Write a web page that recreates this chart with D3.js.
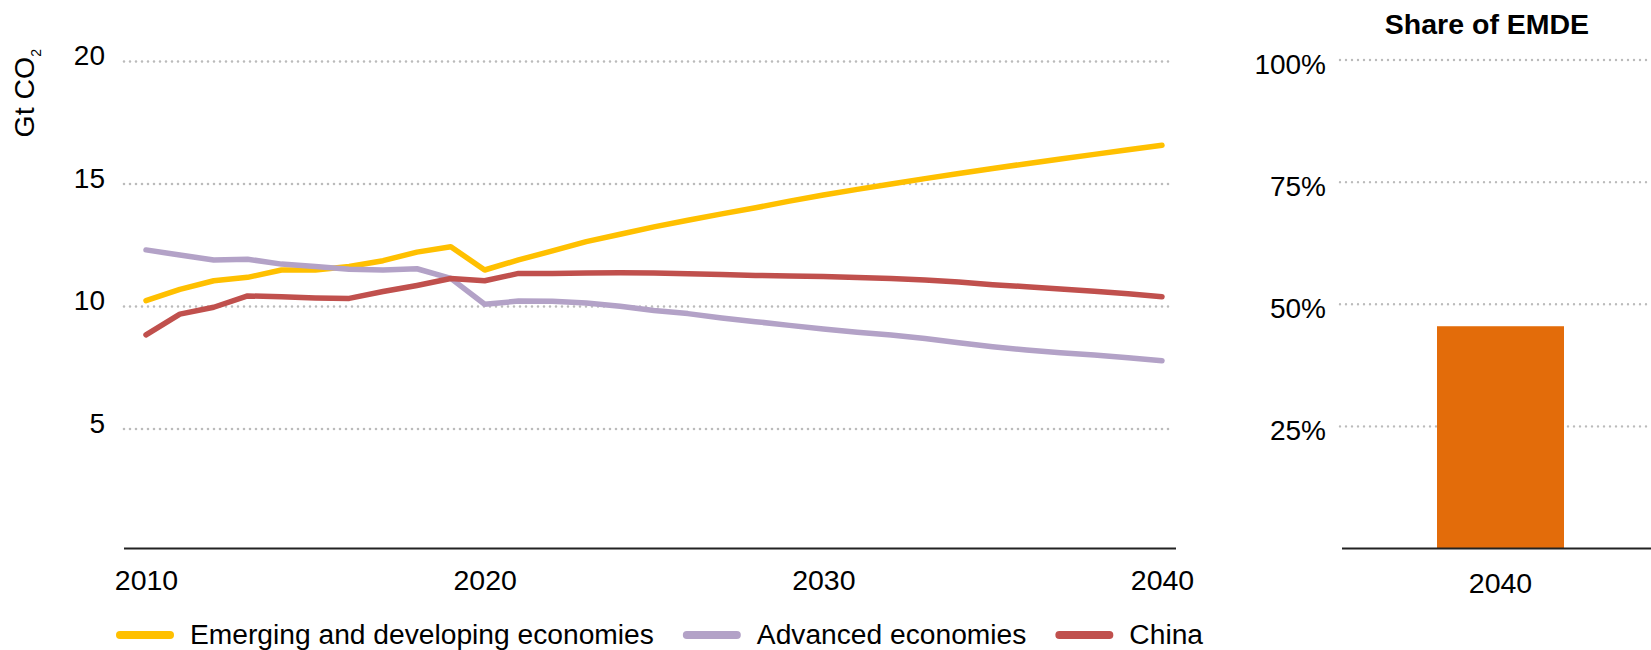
<!DOCTYPE html>
<html><head><meta charset="utf-8">
<script src="https://cdn.jsdelivr.net/npm/d3@7"></script>
<style>
body{margin:0;background:#fff}
text{font-family:"Liberation Sans",Arial,Helvetica,sans-serif;fill:#000}
</style>
</head><body>
<svg id="c" width="1651" height="650"></svg>
<script>
const years = [2010,2011,2012,2013,2014,2015,2016,2017,2018,2019,2020,2021,2022,2023,2024,2025,2026,2027,2028,2029,2030,2031,2032,2033,2034,2035,2036,2037,2038,2039,2040];
const emde = [10.24,10.70,11.05,11.19,11.49,11.49,11.63,11.87,12.22,12.44,11.49,11.90,12.27,12.65,12.95,13.25,13.52,13.78,14.03,14.30,14.55,14.78,15.00,15.22,15.43,15.63,15.83,16.02,16.21,16.40,16.58];
const advanced = [12.31,12.10,11.90,11.93,11.73,11.63,11.52,11.49,11.54,11.15,10.09,10.22,10.21,10.14,10.01,9.84,9.71,9.53,9.38,9.23,9.08,8.95,8.84,8.69,8.52,8.36,8.22,8.11,8.02,7.91,7.79];
const china = [8.84,9.69,9.97,10.43,10.40,10.35,10.33,10.61,10.86,11.14,11.05,11.35,11.35,11.37,11.38,11.37,11.34,11.31,11.27,11.24,11.22,11.18,11.14,11.08,11.00,10.89,10.81,10.71,10.62,10.52,10.40];
const seriesNames = ["Emerging and developing economies","Advanced economies","China"];
const seriesColors = ["#FFC000","#B3A2C7","#C0504D"];
const yTicks = [5,10,15,20];
const xTicks = [2010,2020,2030,2040];
const shareCategories = ["2040"];
const shareValues = [45.5];
const shareTicks = [25,50,75,100];
const shareTitle = "Share of EMDE";
const barColor = "#E36C0A";

const svg = d3.select("#c");
const gridColor = "#BBBBBB";

// ---------- left panel ----------
const x = d3.scaleLinear().domain([2010,2040]).range([146,1162]);
const y = d3.scaleLinear().domain([0,20]).range([551.5,61.5]);
const gL = svg.append("g");

gL.selectAll("line.grid").data(yTicks).join("line")
  .attr("x1",124).attr("x2",1174)
  .attr("y1",d=>y(d)).attr("y2",d=>y(d))
  .attr("stroke",gridColor).attr("stroke-width",2.6)
  .attr("stroke-linecap","round").attr("stroke-dasharray","0,6");

const yAxL = gL.append("g").attr("transform","translate(124,0)")
  .call(d3.axisLeft(y).tickValues(yTicks).tickSize(0).tickPadding(19).tickFormat(d3.format("d")));
yAxL.select(".domain").remove();
yAxL.selectAll("text").attr("dy","0.12em").style("font-size","28px");

const xAx = gL.append("g").attr("transform","translate(0,548.5)")
  .call(d3.axisBottom(x).tickValues(xTicks).tickSize(0).tickPadding(21).tickFormat(d3.format("d")));
xAx.select(".domain").remove();
xAx.selectAll("text").style("font-size","28.5px");
gL.append("line").attr("x1",124).attr("x2",1176).attr("y1",548.5).attr("y2",548.5)
  .attr("stroke","#222").attr("stroke-width",2);

const series = [emde, advanced, china];
const line = d3.line().x((d,i)=>x(years[i])).y(d=>y(d));
gL.selectAll("path.series").data(series).join("path")
  .attr("fill","none").attr("d",line)
  .attr("stroke",(d,i)=>seriesColors[i]).attr("stroke-width",5.5)
  .attr("stroke-linejoin","round").attr("stroke-linecap","round");

// y-axis title
const yt = svg.append("text").attr("transform","translate(33.5,137.5) rotate(-90)")
  .style("font-size","28.5px");
yt.append("tspan").text("Gt CO");
yt.append("tspan").text("2").style("font-size","14px").attr("dy",7);

// legend
let lx = 116;
const leg = svg.append("g");
seriesNames.forEach((name,i)=>{
  leg.append("line").attr("x1",lx+4).attr("x2",lx+54).attr("y1",635).attr("y2",635)
    .attr("stroke",seriesColors[i]).attr("stroke-width",8).attr("stroke-linecap","round");
  const t = leg.append("text").attr("x",lx+74).attr("y",644).style("font-size","28.2px").text(name);
  lx = lx + 74 + t.node().getComputedTextLength() + 29;
});

// ---------- right panel ----------
const yR = d3.scaleLinear().domain([0,100]).range([548.5,60]);
const xR = d3.scaleBand().domain(shareCategories).range([1341,1660]).paddingInner(0.4305).paddingOuter(0.4305);
const gR = svg.append("g");
gR.selectAll("line.grid").data(shareTicks).join("line")
  .attr("x1",1340).attr("x2",1651)
  .attr("y1",d=>yR(d)).attr("y2",d=>yR(d))
  .attr("stroke",gridColor).attr("stroke-width",2.4)
  .attr("stroke-linecap","round").attr("stroke-dasharray","0,6");
const yAxR = gR.append("g").attr("transform","translate(1340,0)")
  .call(d3.axisLeft(yR).tickValues(shareTicks).tickSize(0).tickPadding(14).tickFormat(d=>d+"%"));
yAxR.select(".domain").remove();
yAxR.selectAll("text").attr("dy","0.47em").style("font-size","28px");

gR.selectAll("rect").data(shareValues).join("rect")
  .attr("x",(d,i)=>xR(shareCategories[i])).attr("width",xR.bandwidth())
  .attr("y",d=>yR(d)).attr("height",d=>yR(0)-yR(d))
  .attr("fill",barColor);

const xAxR = gR.append("g").attr("transform","translate(0,548.5)")
  .call(d3.axisBottom(xR).tickSize(0).tickPadding(24));
xAxR.select(".domain").remove();
xAxR.selectAll("text").style("font-size","28.5px");
gR.append("line").attr("x1",1342).attr("x2",1651).attr("y1",548.5).attr("y2",548.5)
  .attr("stroke","#222").attr("stroke-width",2);

svg.append("text").attr("x",1487).attr("y",34).attr("text-anchor","middle")
  .style("font-size","28.5px").style("font-weight","bold").text(shareTitle);
</script>
</body></html>
